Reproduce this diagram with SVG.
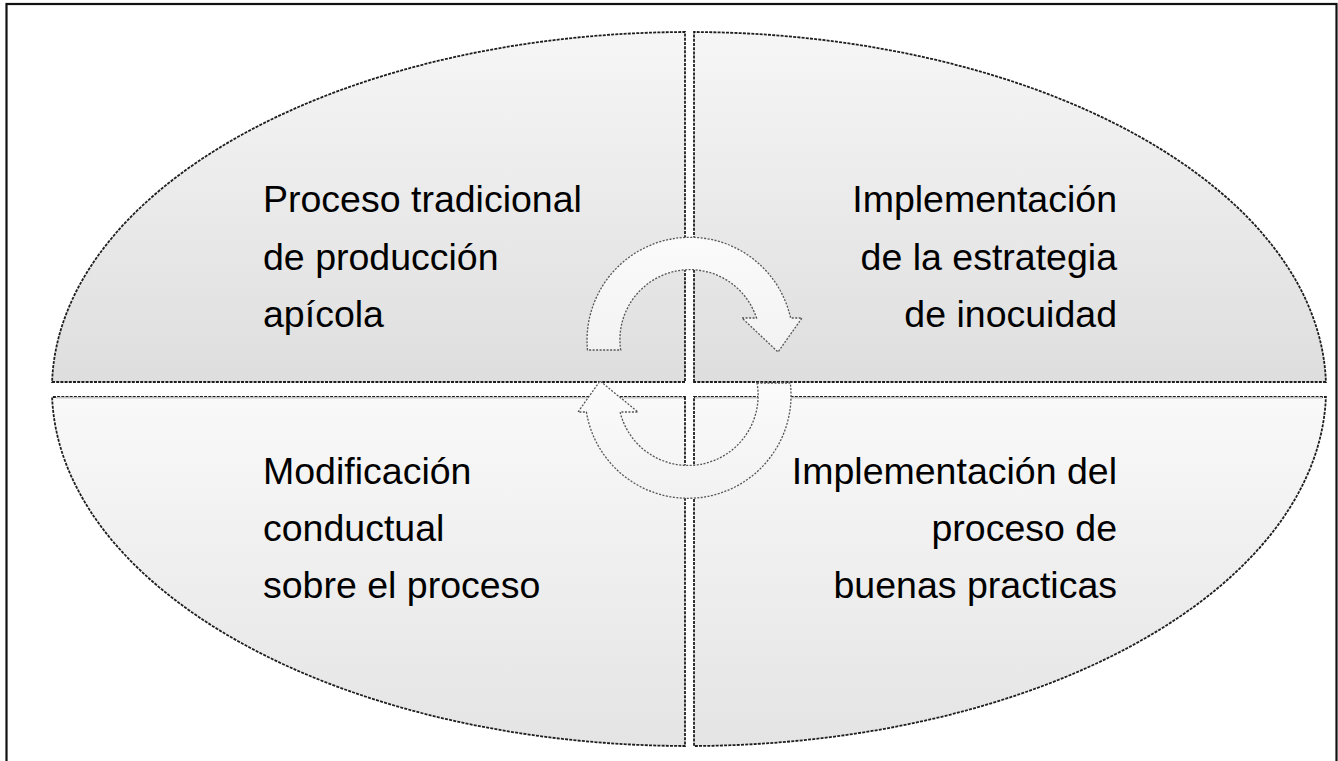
<svg xmlns="http://www.w3.org/2000/svg" width="1338" height="761" viewBox="0 0 1338 761">
  <style>
    .q { stroke: #1e1e1e; stroke-width: 1.8; stroke-dasharray: 3 1.2; }
    .t { font-family: "Liberation Sans", Arial, sans-serif; font-size: 37.5px; fill: #000; }
    .r { text-anchor: end; }
    .arr { fill: url(#ga); stroke: #555; stroke-width: 1.3; stroke-dasharray: 2 1.5; }
  </style>
  <defs>
    <linearGradient id="gt" x1="0" y1="0" x2="0" y2="1">
      <stop offset="0" stop-color="#f6f6f6"/>
      <stop offset="1" stop-color="#dedede"/>
    </linearGradient>
    <linearGradient id="gb" x1="0" y1="0" x2="0" y2="1">
      <stop offset="0" stop-color="#f9f9f9"/>
      <stop offset="1" stop-color="#e4e4e4"/>
    </linearGradient>
    <linearGradient id="ga" x1="0" y1="0" x2="0" y2="1">
      <stop offset="0" stop-color="#fbfbfb"/>
      <stop offset="1" stop-color="#f2f2f2"/>
    </linearGradient>
  </defs>
  <rect x="0" y="0" width="1338" height="761" fill="#ffffff"/>
  <rect x="6.5" y="4" width="1330" height="800" fill="none" stroke="#111" stroke-width="2.2"/>

  <g id="q-top-left">
    <path class="q" fill="url(#gt)" d="M 685 382 L 52.1 382 A 637 357 0 0 1 685 32 Z"/>
    <text class="t" x="263" y="212">Proceso tradicional</text>
    <text class="t" x="263" y="270">de producción</text>
    <text class="t" x="263" y="327">apícola</text>
  </g>
  <g id="q-top-right">
    <path class="q" fill="url(#gt)" d="M 694 382 L 694 32 A 637 357 0 0 1 1325.9 382 Z"/>
    <text class="t r" x="1117" y="212">Implementación</text>
    <text class="t r" x="1117" y="270">de la estrategia</text>
    <text class="t r" x="1117" y="327">de inocuidad</text>
  </g>
  <g id="q-bottom-left">
    <path class="q" fill="url(#gb)" d="M 685 397 L 685 746 A 637 357 0 0 1 52.1 397 Z"/>
    <line x1="56" y1="397.8" x2="684" y2="397.8" stroke="#c4c4c4" stroke-width="1.6"/>
    <text class="t" x="263" y="484">Modificación</text>
    <text class="t" x="263" y="541">conductual</text>
    <text class="t" x="263" y="598">sobre el proceso</text>
  </g>
  <g id="q-bottom-right">
    <path class="q" fill="url(#gb)" d="M 694 397 L 1325.9 397 A 637 357 0 0 1 694 746 Z"/>
    <line x1="695" y1="397.8" x2="1322" y2="397.8" stroke="#c4c4c4" stroke-width="1.6"/>
    <text class="t r" x="1117" y="484">Implementación del</text>
    <text class="t r" x="1117" y="541">proceso de</text>
    <text class="t r" x="1117" y="598">buenas practicas</text>
  </g>

  <g id="connectors">
    <path class="arr" d="M 587.5 350 A 103 103 0 0 1 790.6 318 L 802 318 L 778 352 L 742 318 L 756.5 318 A 70 70 0 0 0 620.7 350 Z"/>
    <path class="arr" d="M 757 383 L 790.3 383 A 103 103 0 0 1 586.4 412 L 578 412 L 600 381 L 638 412 L 620.1 412 A 70 70 0 0 0 757 383 Z"/>
  </g>
</svg>
